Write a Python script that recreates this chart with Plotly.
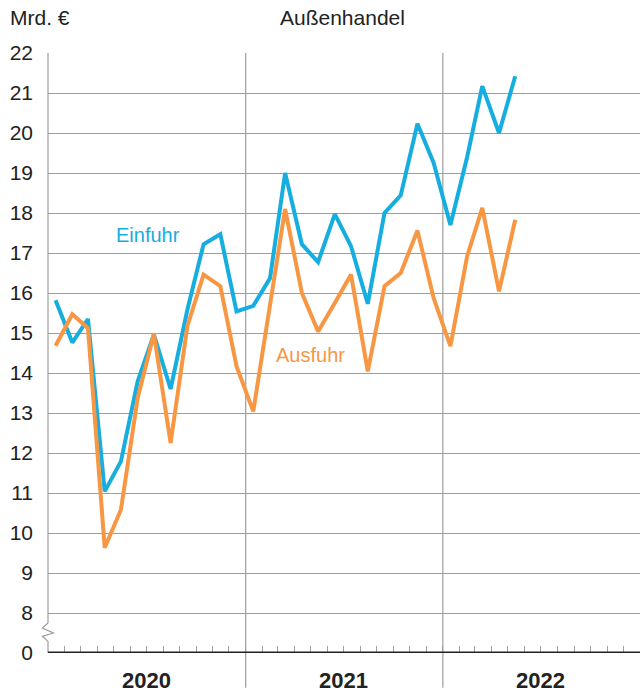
import plotly.graph_objects as go

months = ["2020-01", "2020-02", "2020-03", "2020-04", "2020-05", "2020-06",
          "2020-07", "2020-08", "2020-09", "2020-10", "2020-11", "2020-12",
          "2021-01", "2021-02", "2021-03", "2021-04", "2021-05", "2021-06",
          "2021-07", "2021-08", "2021-09", "2021-10", "2021-11", "2021-12",
          "2022-01", "2022-02", "2022-03", "2022-04", "2022-05"]

einfuhr = [15.82, 14.76, 15.35, 11.04, 11.79, 13.79, 14.96, 13.60, 15.58, 17.22, 17.47, 15.54,
           15.68, 16.37, 19.00, 17.22, 16.77, 17.97, 17.17, 15.73, 18.00, 18.44, 20.23, 19.25,
           17.70, 19.40, 21.17, 20.00, 21.42]

ausfuhr = [14.68, 15.47, 15.12, 9.63, 10.58, 13.37, 14.98, 12.25, 15.17, 16.46, 16.17, 14.17,
           13.04, 15.62, 18.10, 16.00, 15.04, 15.75, 16.46, 14.04, 16.17, 16.50, 17.56, 15.87,
           14.67, 16.92, 18.13, 16.04, 17.83]

years = ["2020", "2021", "2022"]
ytick_vals = list(range(7, 23))
ytick_text = ["0"] + [str(v) for v in range(8, 23)]

BLUE = "#16ADDF"
ORANGE = "#F79744"
GRID = "#9d9d9d"
DARK = "#222222"
FONT = "Liberation Sans, Arial, sans-serif"

x_dates = [m + "-15" for m in months]

fig = go.Figure()
fig.add_trace(go.Scatter(x=x_dates, y=einfuhr, mode="lines", name="Einfuhr",
                         line=dict(color=BLUE, width=4), hoverinfo="skip"))
fig.add_trace(go.Scatter(x=x_dates, y=ausfuhr, mode="lines", name="Ausfuhr",
                         line=dict(color=ORANGE, width=4), hoverinfo="skip"))

shapes = []
# y-axis line with break
shapes.append(dict(type="line", xref="paper", yref="y", x0=0, x1=0, y0=22, y1=7.75,
                   line=dict(color=GRID, width=1.2), layer="below"))
shapes.append(dict(type="path", xref="paper", yref="y",
                   path="M 0 7.75 L -0.0095 7.625 L 0.0091 7.5 L -0.0095 7.417 L 0 7.29 L 0 7",
                   line=dict(color=GRID, width=1.2), layer="below"))
# year dividers
for yr in years[1:]:
    shapes.append(dict(type="line", xref="x", yref="paper", x0=yr + "-01-01", x1=yr + "-01-01",
                       y0=-0.058, y1=1, line=dict(color=GRID, width=1.2), layer="below"))
# baseline
shapes.append(dict(type="line", xref="paper", yref="y", x0=0, x1=1, y0=7, y1=7,
                   line=dict(color=DARK, width=3)))

annotations = []
for yr in years:
    annotations.append(dict(x=yr + "-07-01", xref="x", y=-0.046, yref="paper",
                            text="<b>" + yr + "</b>", showarrow=False,
                            font=dict(family=FONT, size=22, color=DARK),
                            xanchor="center", yanchor="middle"))
annotations.append(dict(x=-0.0676, xref="paper", y=1.059, yref="paper", text="Mrd. €",
                        showarrow=False, font=dict(family=FONT, size=21, color=DARK),
                        xanchor="left", yanchor="middle"))
annotations.append(dict(x=0.498, xref="paper", y=1.059, yref="paper", text="Außenhandel",
                        showarrow=False, font=dict(family=FONT, size=21, color=DARK),
                        xanchor="center", yanchor="middle"))
annotations.append(dict(x="2020-07-05", xref="x", y=17.46, yref="y", text="Einfuhr",
                        showarrow=False, font=dict(family=FONT, size=20, color=BLUE),
                        xanchor="center", yanchor="middle"))
annotations.append(dict(x="2021-05-01", xref="x", y=14.46, yref="y", text="Ausfuhr",
                        showarrow=False, font=dict(family=FONT, size=20, color=ORANGE),
                        xanchor="center", yanchor="middle"))

fig.update_layout(
    width=640, height=695,
    margin=dict(l=48, r=0, t=53, b=42),
    paper_bgcolor="white", plot_bgcolor="white",
    showlegend=False,
    shapes=shapes, annotations=annotations,
    xaxis=dict(type="date", range=["2020-01-01", "2023-01-01"],
               showgrid=False, zeroline=False, showline=False,
               ticks="inside", tick0="2020-01-01", dtick="M1", ticklen=7,
               tickcolor=GRID, tickwidth=1, showticklabels=False, fixedrange=True),
    yaxis=dict(range=[7, 22], tickvals=ytick_vals, ticktext=ytick_text,
               showgrid=True, gridcolor=GRID, gridwidth=1.2, zeroline=False,
               showline=False, ticks="", ticklabelstandoff=14,
               tickfont=dict(family=FONT, size=21, color=DARK), fixedrange=True),
)

fig.write_html("out.html", config={"displayModeBar": False},
               post_script="document.body.style.margin='0';document.body.style.overflow='hidden';")
